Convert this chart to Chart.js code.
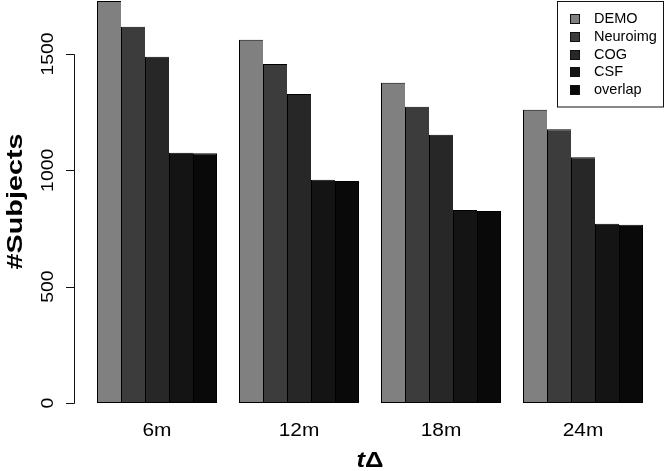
<!DOCTYPE html>
<html>
<head>
<meta charset="utf-8">
<script src="https://cdn.jsdelivr.net/npm/chart.js@4.4.0/dist/chart.umd.min.js"></script>
<style>
html,body{margin:0;padding:0;background:#fff;}
#wrap{width:666px;height:471px;}
</style>
</head>
<body>
<div id="wrap"><canvas id="c" width="666" height="471"></canvas></div>
<script>
const categories = ['6m', '12m', '18m', '24m'];
const seriesNames = ['DEMO', 'Neuroimg', 'COG', 'CSF', 'overlap'];
const demo     = [1728, 1561, 1376, 1260];
const neuroimg = [1617, 1457, 1273, 1177];
const cog      = [1488, 1328, 1153, 1056];
const csf      = [1075, 959, 829, 770];
const overlap  = [1073, 954, 825, 766];
const yTicks = [0, 500, 1000, 1500];
const yTitle = '#Subjects';
const xTitleItalic = 't';
const xTitleRest = 'Δ';

const colors = ['#808080', '#3c3c3c', '#272727', '#141414', '#090909'];
const seriesValues = [demo, neuroimg, cog, csf, overlap];

function stretchText(ctx, s, x, y, font, sx, rot, align) {
  ctx.save();
  ctx.translate(x, y);
  if (rot) ctx.rotate(rot);
  ctx.scale(sx, 1);
  ctx.font = font;
  ctx.textAlign = align || 'center';
  ctx.textBaseline = 'middle';
  ctx.fillStyle = '#000';
  ctx.fillText(s, 0, 0);
  ctx.restore();
}

const axesPlugin = {
  id: 'rAxes',
  afterDraw(chart) {
    const ctx = chart.ctx;
    const ys = chart.scales.y, xs = chart.scales.x;
    const area = chart.chartArea;
    ctx.save();
    // y axis line + ticks
    ctx.strokeStyle = '#111';
    ctx.lineWidth = 1;
    ctx.beginPath();
    const ax = 74.5;
    ctx.moveTo(ax, Math.round(ys.getPixelForValue(yTicks[0])) + 0.5);
    ctx.lineTo(ax, Math.round(ys.getPixelForValue(yTicks[yTicks.length - 1])) + 0.5);
    yTicks.forEach(v => {
      const py = Math.round(ys.getPixelForValue(v)) + 0.5;
      ctx.moveTo(66, py);
      ctx.lineTo(ax, py);
    });
    ctx.stroke();
    // y tick labels (rotated)
    yTicks.forEach(v => {
      const py = ys.getPixelForValue(v);
      stretchText(ctx, String(v), 48, py, '17px "Liberation Sans", Arial, sans-serif', 1.14, -Math.PI / 2);
    });
    // y title
    ctx.font = 'bold 22px "Liberation Sans", Arial, sans-serif';
    const tw = ctx.measureText(yTitle).width;
    stretchText(ctx, yTitle, 16, (area.top + area.bottom) / 2, 'bold 22px "Liberation Sans", Arial, sans-serif', 136 / tw, -Math.PI / 2);
    // x labels
    categories.forEach((c, i) => {
      const px = xs.getPixelForValue(i);
      stretchText(ctx, c, px, 431, '18px "Liberation Sans", Arial, sans-serif', 1.16, 0);
    });
    // x title
    const cx = (area.left + area.right) / 2;
    const f1 = 'italic bold 22px "Liberation Sans", Arial, sans-serif';
    const f2 = 'bold 22px "Liberation Sans", Arial, sans-serif';
    ctx.font = f1; const w1 = ctx.measureText(xTitleItalic).width;
    ctx.font = f2; const w2 = ctx.measureText(xTitleRest).width;
    const sx = 27 / (w1 + w2);
    const total = (w1 + w2) * sx;
    const x0 = cx - total / 2;
    stretchText(ctx, xTitleItalic, x0, 461, f1, sx, 0, 'left');
    stretchText(ctx, xTitleRest, x0 + w1 * sx, 461, f2, sx, 0, 'left');
    // legend
    ctx.strokeStyle = '#111';
    ctx.lineWidth = 1;
    ctx.strokeRect(557.5, 1.5, 106, 105.5);
    chart.data.datasets.forEach((ds, i) => {
      const ry = 19 + i * 17.8;
      ctx.fillStyle = ds.backgroundColor;
      ctx.fillRect(570, Math.round(ry - 5), 10, 10);
      ctx.strokeStyle = '#111';
      ctx.strokeRect(570.5, Math.round(ry - 5) + 0.5, 9, 9);
      ctx.fillStyle = '#000';
      ctx.font = '14.5px "Liberation Sans", Arial, sans-serif';
      ctx.textAlign = 'left';
      ctx.textBaseline = 'middle';
      ctx.fillText(ds.label, 594, ry);
    });
    ctx.restore();
  }
};

new Chart(document.getElementById('c'), {
  type: 'bar',
  data: {
    labels: categories,
    datasets: seriesNames.map((n, i) => ({
      label: n,
      data: seriesValues[i],
      backgroundColor: colors[i],
      borderColor: '#000',
      borderWidth: i < seriesNames.length - 1 ? { left: 1, top: 1, bottom: 1, right: 0 } : 1,
      borderSkipped: false,
      barPercentage: 1.0,
      categoryPercentage: 120 / 142,
      clip: false
    }))
  },
  options: {
    responsive: false,
    animation: false,
    layout: { padding: { left: 86, right: 12, top: 0, bottom: 68 } },
    plugins: { legend: { display: false }, tooltip: { enabled: false }, title: { display: false } },
    scales: {
      x: { display: false },
      y: { display: false, min: 0, max: 1732 }
    }
  },
  plugins: [axesPlugin]
});
</script>
</body>
</html>
